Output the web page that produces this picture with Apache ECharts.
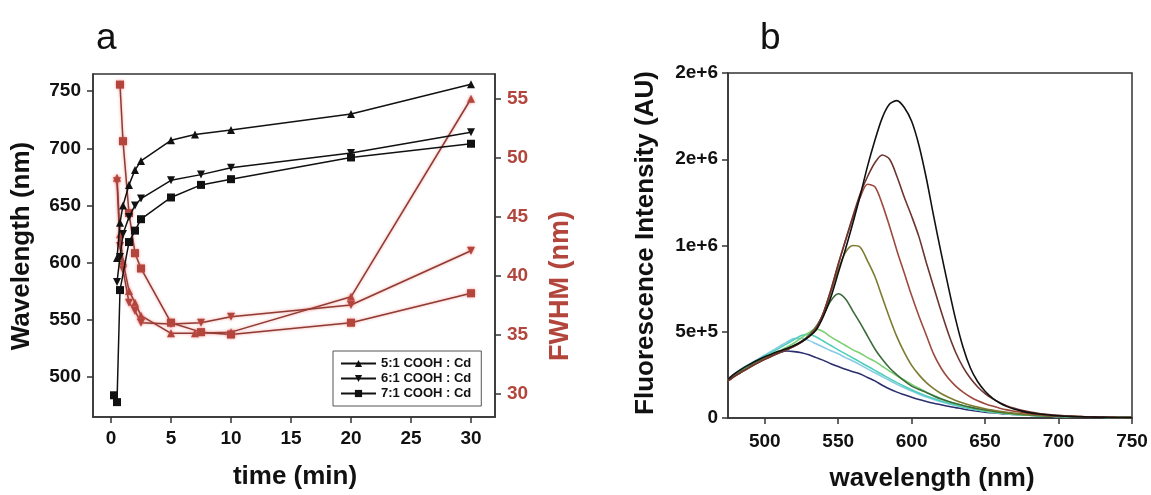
<!DOCTYPE html>
<html>
<head>
<meta charset="utf-8">
<title>Emission peak and FWHM vs time; fluorescence spectra</title>
<script src="https://cdn.jsdelivr.net/npm/echarts@6/dist/echarts.min.js"></script>
<style>
  html, body { margin: 0; padding: 0; background: #fff; }
  #chart { width: 1151px; height: 495px; }
</style>
</head>
<body>
<div id="chart"></div>
<script>
// ---- panel a: peak wavelength (black) and FWHM (red) vs time ----
const time51 = [0.5, 0.75, 1, 1.5, 2, 2.5, 5, 7, 10, 20, 30]
const wave51 = [604, 635, 650, 668, 681, 689, 707, 712, 716, 730, 756]
const fwhm51 = [48.3, 43.5, 41.2, 38.7, 37.7, 36.6, 35.1, 35.1, 35.2, 38.2, 55.0]

const time61 = [0.5, 0.75, 1, 1.5, 2, 2.5, 5, 7.5, 10, 20, 30]
const wave61 = [583, 605, 625, 640, 650, 656, 672, 677, 683, 696, 714]
const fwhm61 = [48.0, 42.5, 40.5, 37.7, 37.0, 36.0, 35.9, 36.0, 36.5, 37.5, 42.1]

const time71 = [0.25, 0.5, 0.75, 1.5, 2, 2.5, 5, 7.5, 10, 20, 30]
const wave71 = [484, 478, 576, 618, 628, 638, 657, 668, 673, 692, 704]
const time71f = [0.75, 1, 1.5, 2, 2.5, 5, 7.5, 10, 20, 30]
const fwhm71 = [56.2, 51.4, 45.3, 41.9, 40.6, 36.0, 35.2, 35.0, 36.0, 38.5]

const timeTicks = [0, 5, 10, 15, 20, 25, 30]
const waveTicks = [500, 550, 600, 650, 700, 750]
const fwhmTicks = [30, 35, 40, 45, 50, 55]

// ---- panel b: fluorescence spectra (intensity in units of 1e5 AU) ----
const lambda = [475, 480, 485, 490, 495, 500, 505, 510, 515, 520, 525, 530, 535, 540, 545,
  550, 555, 560, 565, 570, 575, 580, 585, 590, 595, 600, 605, 610, 615, 620, 625, 630,
  635, 640, 645, 650, 655, 660, 665, 670, 675, 680, 685, 690, 695, 700, 705, 710, 715,
  720, 725, 730, 735, 740, 745, 750]
const specNavy = [2.2, 2.55, 2.85, 3.1, 3.3, 3.5, 3.68, 3.8, 3.88, 3.85, 3.78, 3.66, 3.5, 3.34, 3.15,
  2.98, 2.82, 2.68, 2.55, 2.35, 2.15, 1.9, 1.68, 1.5, 1.35, 1.2, 1.07, 0.96, 0.86, 0.77, 0.68, 0.6,
  0.52, 0.45, 0.39, 0.34, 0.3, 0.26, 0.23, 0.2, 0.18, 0.16, 0.14, 0.12, 0.1, 0.09, 0.08, 0.07, 0.06,
  0.05, 0.04, 0.04, 0.03, 0.03, 0.02, 0.02]
const specLightBlue = [2.25, 2.6, 2.9, 3.15, 3.4, 3.65, 3.9, 4.15, 4.4, 4.6, 4.62, 4.5, 4.3, 4.1, 3.9,
  3.72, 3.5, 3.3, 3.08, 2.85, 2.62, 2.4, 2.17, 1.95, 1.75, 1.56, 1.38, 1.22, 1.08, 0.95, 0.83, 0.72,
  0.62, 0.53, 0.46, 0.39, 0.33, 0.28, 0.24, 0.21, 0.18, 0.16, 0.14, 0.12, 0.1, 0.09, 0.08, 0.07, 0.06,
  0.05, 0.04, 0.04, 0.03, 0.03, 0.02, 0.02]
const specTeal = [2.2, 2.55, 2.85, 3.1, 3.35, 3.6, 3.82, 4.05, 4.3, 4.55, 4.78, 4.85, 4.7, 4.45, 4.2,
  3.95, 3.72, 3.48, 3.24, 3.0, 2.76, 2.52, 2.28, 2.05, 1.84, 1.64, 1.45, 1.28, 1.13, 0.99, 0.86, 0.75,
  0.64, 0.55, 0.47, 0.4, 0.34, 0.29, 0.25, 0.21, 0.18, 0.16, 0.14, 0.12, 0.1, 0.09, 0.08, 0.07, 0.06,
  0.05, 0.04, 0.04, 0.03, 0.03, 0.02, 0.02]
const specLightGreen = [2.2, 2.5, 2.8, 3.05, 3.3, 3.5, 3.7, 3.9, 4.1, 4.35, 4.65, 4.95, 5.15, 5.0, 4.7,
  4.45, 4.2, 3.95, 3.75, 3.5, 3.28, 3.0, 2.72, 2.45, 2.2, 1.95, 1.72, 1.5, 1.3, 1.13, 0.97, 0.83,
  0.71, 0.61, 0.52, 0.44, 0.37, 0.31, 0.26, 0.22, 0.19, 0.16, 0.14, 0.12, 0.1, 0.09, 0.08, 0.07, 0.06,
  0.05, 0.04, 0.04, 0.03, 0.03, 0.02, 0.02]
const specDarkGreen = [2.2, 2.5, 2.75, 3.0, 3.25, 3.45, 3.65, 3.82, 4.0, 4.2, 4.45, 4.8, 5.3, 6.0, 6.8,
  7.2, 6.9, 6.2, 5.5, 4.75, 4.0, 3.4, 2.9, 2.5, 2.15, 1.85, 1.65, 1.48, 1.28, 1.1, 0.96, 0.84,
  0.73, 0.63, 0.54, 0.47, 0.4, 0.34, 0.29, 0.25, 0.21, 0.18, 0.15, 0.13, 0.11, 0.1, 0.09, 0.08, 0.07,
  0.06, 0.05, 0.04, 0.04, 0.03, 0.03, 0.02]
const specOlive = [2.15, 2.45, 2.7, 2.95, 3.2, 3.42, 3.62, 3.8, 3.98, 4.18, 4.42, 4.75, 5.25, 6.1, 7.3,
  8.6, 9.6, 10.0, 9.9, 9.1, 8.2, 7.0, 5.8, 4.7, 3.8, 3.05, 2.5, 2.05, 1.7, 1.42, 1.2, 1.02,
  0.87, 0.74, 0.63, 0.54, 0.46, 0.39, 0.33, 0.28, 0.24, 0.2, 0.17, 0.15, 0.13, 0.11, 0.1, 0.09, 0.08,
  0.07, 0.06, 0.05, 0.04, 0.03, 0.03, 0.02]
const specRedBrown = [2.15, 2.45, 2.7, 2.95, 3.18, 3.4, 3.6, 3.78, 3.96, 4.15, 4.4, 4.72, 5.2, 6.1, 7.4,
  8.9, 10.3, 11.6, 12.8, 13.55, 13.4, 12.4, 11.1, 9.7, 8.4, 7.1, 5.9, 4.8, 3.7, 2.9, 2.3, 1.85,
  1.5, 1.22, 1.0, 0.83, 0.69, 0.57, 0.47, 0.39, 0.33, 0.27, 0.22, 0.18, 0.15, 0.12, 0.1, 0.09, 0.08,
  0.07, 0.06, 0.05, 0.04, 0.03, 0.03, 0.02]
const specDarkRed = [2.15, 2.45, 2.7, 2.95, 3.18, 3.4, 3.6, 3.78, 3.96, 4.15, 4.4, 4.72, 5.2, 6.1, 7.4,
  8.9, 10.3, 11.7, 13.0, 14.0, 14.8, 15.25, 15.0, 14.0, 12.8, 11.7, 10.5, 9.0, 7.6, 6.2, 4.9, 3.8,
  2.95, 2.3, 1.8, 1.42, 1.12, 0.88, 0.7, 0.56, 0.45, 0.36, 0.29, 0.23, 0.19, 0.15, 0.12, 0.1, 0.08,
  0.07, 0.06, 0.05, 0.04, 0.03, 0.03, 0.02]
const specBlack = [2.25, 2.6, 2.88, 3.12, 3.35, 3.55, 3.72, 3.88, 4.03, 4.2, 4.42, 4.72, 5.1, 5.9, 7.0,
  8.4, 9.8, 11.3, 12.9, 14.6, 16.1, 17.4, 18.2, 18.4, 18.0, 17.2, 15.8, 13.9, 11.7, 9.6, 7.6, 5.7,
  4.1, 2.9, 2.1, 1.55, 1.15, 0.87, 0.66, 0.51, 0.4, 0.31, 0.25, 0.2, 0.16, 0.13, 0.1, 0.08, 0.07,
  0.06, 0.05, 0.04, 0.03, 0.03, 0.02, 0.02]
const lambdaTicks = [500, 550, 600, 650, 700, 750]

const FONT = '"Liberation Sans", Arial, sans-serif'
const RED = '#b2453c'
const RED_LINE = '#8e3b32'

function pairs(xs, ys) {
  return xs.map((x, i) => [x, ys[i]])
}

const chart = echarts.init(document.getElementById('chart'), null, { renderer: 'canvas' })

const tickLabel = { fontFamily: FONT, fontWeight: 'bold', fontSize: 19, color: '#111' }
const axisLine = { show: true, onZero: false, lineStyle: { color: '#333', width: 1.5 } }
const axisTick = { show: true, inside: false, length: 6, lineStyle: { color: '#333', width: 1.5 } }

function blackSeries(name, xs, ys, symbol, rotate) {
  return {
    name: name,
    type: 'line',
    xAxisIndex: 0,
    yAxisIndex: 0,
    data: pairs(xs, ys),
    symbol: symbol,
    symbolRotate: rotate,
    symbolSize: 8,
    lineStyle: { color: '#111', width: 1.5 },
    itemStyle: { color: '#111' },
    z: 3,
  }
}
function redSeries(name, xs, ys, symbol, rotate) {
  return {
    name: name,
    type: 'line',
    xAxisIndex: 0,
    yAxisIndex: 1,
    data: pairs(xs, ys),
    symbol: symbol,
    symbolRotate: rotate,
    symbolSize: 8,
    lineStyle: { color: RED_LINE, width: 1.5, shadowBlur: 3, shadowColor: 'rgba(235,90,90,0.6)' },
    itemStyle: { color: RED, shadowBlur: 3, shadowColor: 'rgba(235,90,90,0.7)' },
    z: 2,
  }
}
function specSeries(ys, color) {
  return {
    type: 'line',
    xAxisIndex: 1,
    yAxisIndex: 2,
    data: pairs(lambda, ys),
    showSymbol: false,
    smooth: 0.3,
    lineStyle: { color: color, width: 1.6 },
    silent: true,
  }
}

const option = {
  animation: false,
  backgroundColor: '#fff',
  grid: [
    { left: 93, top: 74, width: 402, height: 343, show: true, borderColor: '#333', borderWidth: 1.5 },
    { left: 728, top: 73, width: 404, height: 345, show: true, borderColor: '#333', borderWidth: 1.5 },
  ],
  legend: {
    data: ['5:1 COOH : Cd', '6:1 COOH : Cd', '7:1 COOH : Cd'],
    orient: 'vertical',
    left: 333,
    top: 351,
    padding: [6, 10, 6, 7],
    itemWidth: 35,
    itemHeight: 9,
    itemGap: 2,
    borderColor: '#555',
    borderWidth: 1,
    textStyle: { fontFamily: FONT, fontWeight: 'bold', fontSize: 13, color: '#111' },
  },
  xAxis: [
    {
      gridIndex: 0,
      type: 'value',
      min: -1.5,
      max: 32,
      axisLine: axisLine,
      axisTick: Object.assign({ customValues: timeTicks }, axisTick),
      axisLabel: Object.assign({ customValues: timeTicks, margin: 12 }, tickLabel),
      splitLine: { show: false },
    },
    {
      gridIndex: 1,
      type: 'value',
      min: 475,
      max: 750,
      axisLine: axisLine,
      axisTick: Object.assign({ customValues: lambdaTicks }, axisTick),
      axisLabel: Object.assign({ customValues: lambdaTicks, margin: 14 }, tickLabel),
      splitLine: { show: false },
    },
  ],
  yAxis: [
    {
      gridIndex: 0,
      type: 'value',
      min: 465,
      max: 765,
      axisLine: axisLine,
      axisTick: Object.assign({ customValues: waveTicks }, axisTick),
      axisLabel: Object.assign({ customValues: waveTicks, margin: 12 }, tickLabel),
      splitLine: { show: false },
    },
    {
      gridIndex: 0,
      type: 'value',
      position: 'right',
      min: 28,
      max: 57.1,
      axisLine: axisLine,
      axisTick: Object.assign({ customValues: fwhmTicks }, axisTick),
      axisLabel: Object.assign({}, tickLabel, { customValues: fwhmTicks, margin: 12, color: RED }),
      splitLine: { show: false },
    },
    {
      gridIndex: 1,
      type: 'value',
      min: 0,
      max: 20,
      interval: 5,
      axisLine: axisLine,
      axisTick: axisTick,
      axisLabel: Object.assign({
        margin: 10,
        formatter: v => (v === 0 ? '0' : (v * 1e5).toExponential(0)),
      }, tickLabel),
      splitLine: { show: false },
    },
  ],
  graphic: [
    { type: 'text', left: 96, top: 20, style: { text: 'a', font: '37px ' + FONT, fill: '#111' } },
    { type: 'text', left: 760, top: 20, style: { text: 'b', font: '37px ' + FONT, fill: '#111' } },
    {
      type: 'text', x: 22, y: 246, rotation: Math.PI / 2,
      style: { text: 'Wavelength (nm)', font: 'bold 26px ' + FONT, fill: '#111', align: 'center', verticalAlign: 'middle' },
    },
    {
      type: 'text', x: 561, y: 286, rotation: Math.PI / 2,
      style: { text: 'FWHM (nm)', font: 'bold 27px ' + FONT, fill: RED, align: 'center', verticalAlign: 'middle' },
    },
    {
      type: 'text', x: 295, y: 477,
      style: { text: 'time (min)', font: 'bold 26px ' + FONT, fill: '#111', align: 'center', verticalAlign: 'middle' },
    },
    {
      type: 'text', x: 646, y: 243, rotation: Math.PI / 2,
      style: { text: 'Fluorescence Intensity (AU)', font: 'bold 26px ' + FONT, fill: '#111', align: 'center', verticalAlign: 'middle' },
    },
    {
      type: 'text', x: 932, y: 479,
      style: { text: 'wavelength (nm)', font: 'bold 26px ' + FONT, fill: '#111', align: 'center', verticalAlign: 'middle' },
    },
  ],
  series: [
    redSeries('FWHM 5:1', time51, fwhm51, 'triangle', 0),
    redSeries('FWHM 6:1', time61, fwhm61, 'triangle', 180),
    redSeries('FWHM 7:1', time71f, fwhm71, 'rect', 0),
    blackSeries('5:1 COOH : Cd', time51, wave51, 'triangle', 0),
    blackSeries('6:1 COOH : Cd', time61, wave61, 'triangle', 180),
    blackSeries('7:1 COOH : Cd', time71, wave71, 'rect', 0),
    specSeries(specNavy, '#2c2f6e'),
    specSeries(specLightBlue, '#86cbe8'),
    specSeries(specTeal, '#4fcfb8'),
    specSeries(specLightGreen, '#7ccf72'),
    specSeries(specDarkGreen, '#3d6b3c'),
    specSeries(specOlive, '#7d7b30'),
    specSeries(specRedBrown, '#9c4a3e'),
    specSeries(specDarkRed, '#6e3430'),
    specSeries(specBlack, '#111111'),
  ],
}
chart.setOption(option)
</script>
</body>
</html>
